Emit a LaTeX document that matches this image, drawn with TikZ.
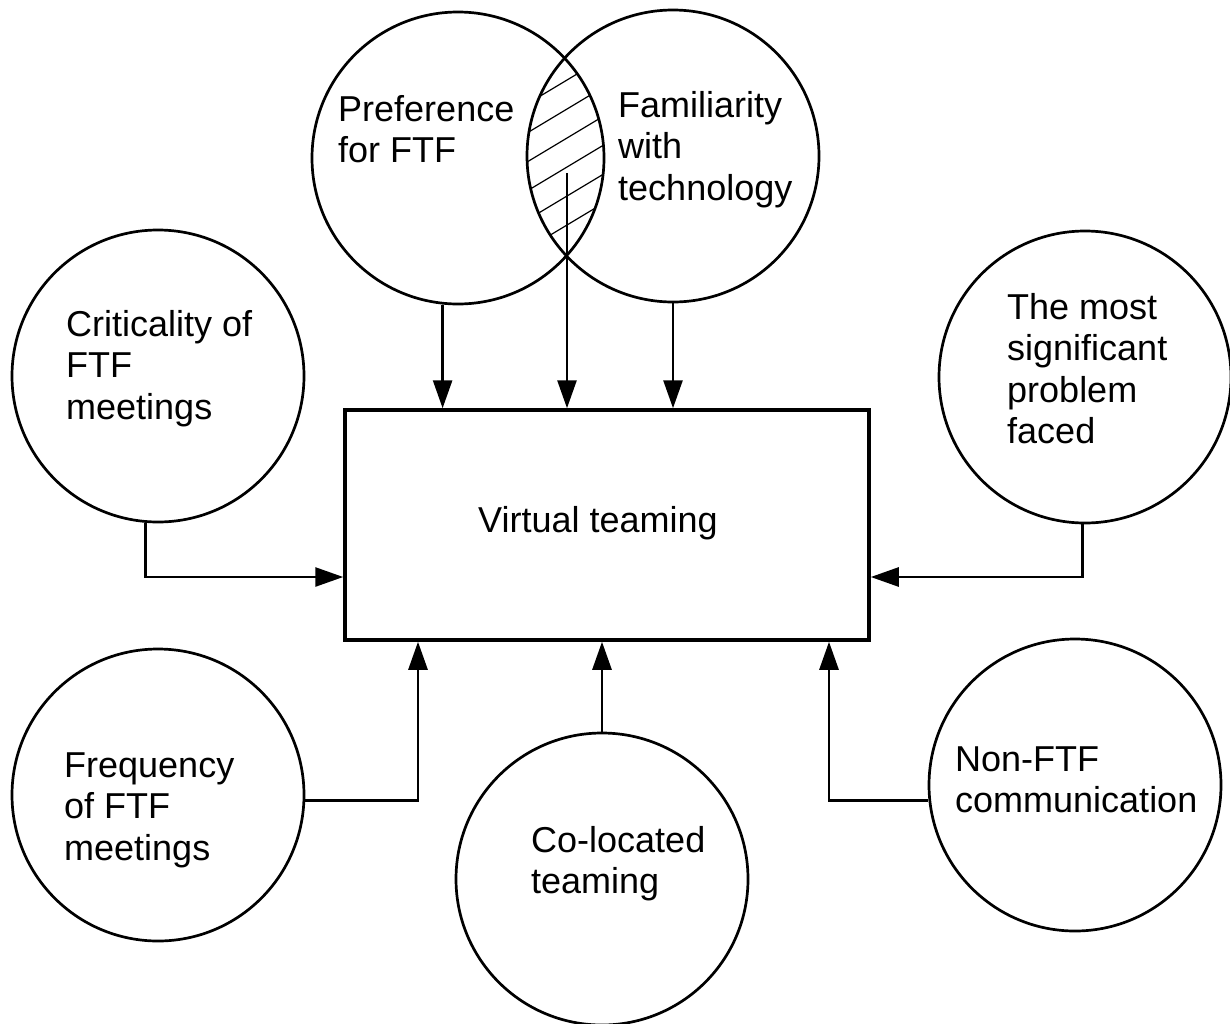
\documentclass[tikz,border=0pt]{standalone}
\usepackage{fontspec}
\setmainfont{Liberation Sans}
\usetikzlibrary{arrows.meta}
\newcommand\mylines[1]{\vtop{\halign{##\hfil\cr#1\crcr}}}
\begin{document}
\begin{tikzpicture}[x=1pt,y=-1pt,
  circ/.style={circle,draw,line width=2.7pt,minimum size=292pt,inner sep=0pt},
  lbl/.style={anchor=base west,inner sep=0pt,font=\fontsize{36pt}{41.5pt}\selectfont},
  arr/.style={line width=2.7pt,-{Triangle[length=28pt,width=19pt]}},
  hatch/.style={line width=1.2pt}]
\useasboundingbox (0,0) rectangle (1230,1023);
% hatch in the overlap
\begin{scope}
  \clip (458,158) circle[radius=146pt];
  \clip (673,156) circle[radius=146pt];
  \foreach \c in {80,109,138,167,196,225}
    \draw[hatch] (500,\c+40.2) -- (640,\c-43.8);
\end{scope}
% circles
\node[circ] (pref) at (458,158) {};
\node[circ] (fam) at (673,156) {};
\node[circ] (crit) at (158,376) {};
\node[circ] (most) at (1085,377) {};
\node[circ] (freq) at (158,795) {};
\node[circ] (colo) at (602,879) {};
\node[circ] (non) at (1075,785) {};
% box
\node[draw,line width=4pt,minimum width=523.5pt,minimum height=229.5pt,inner sep=0pt] (box) at (607,525) {};
% texts
\node[lbl] (tpref) at (338,121) {\mylines{Preference\cr for FTF}};
\node[lbl] (tfam) at (618,117) {\mylines{Familiarity\cr with\cr technology}};
\node[lbl] (tcrit) at (66,336) {\mylines{Criticality of\cr FTF\cr meetings}};
\node[lbl] (tmost) at (1007,319) {\mylines{The most\cr significant\cr problem\cr faced}};
\node[lbl] (tfreq) at (64,777) {\mylines{Frequency\cr of FTF\cr meetings}};
\node[lbl] (tcolo) at (531,852) {\mylines{Co-located\cr teaming}};
\node[lbl] (tnon) at (955,771) {\mylines{Non-FTF\cr communication}};
\node[lbl] (tbox) at (478,532) {Virtual teaming};
% connectors
\coordinate (mid) at (567,173);
\draw[arr] (pref.264) -- (pref.264 |- box.north);
\draw[arr] (mid) -- (mid |- box.north);
\draw[arr] (fam.south) -- (fam.south |- box.north);
\draw[arr] (crit.265) |- ([yshift=-52pt]box.west);
\draw[arr] (most.269) |- ([yshift=-52pt]box.east);
\draw[arr] (freq.358) -| ([xshift=-189pt]box.south);
\draw[arr] (colo.north) -- (colo.north |- box.south);
\draw[arr] (non.186) -| ([xshift=222pt]box.south);
\end{tikzpicture}
\end{document}
